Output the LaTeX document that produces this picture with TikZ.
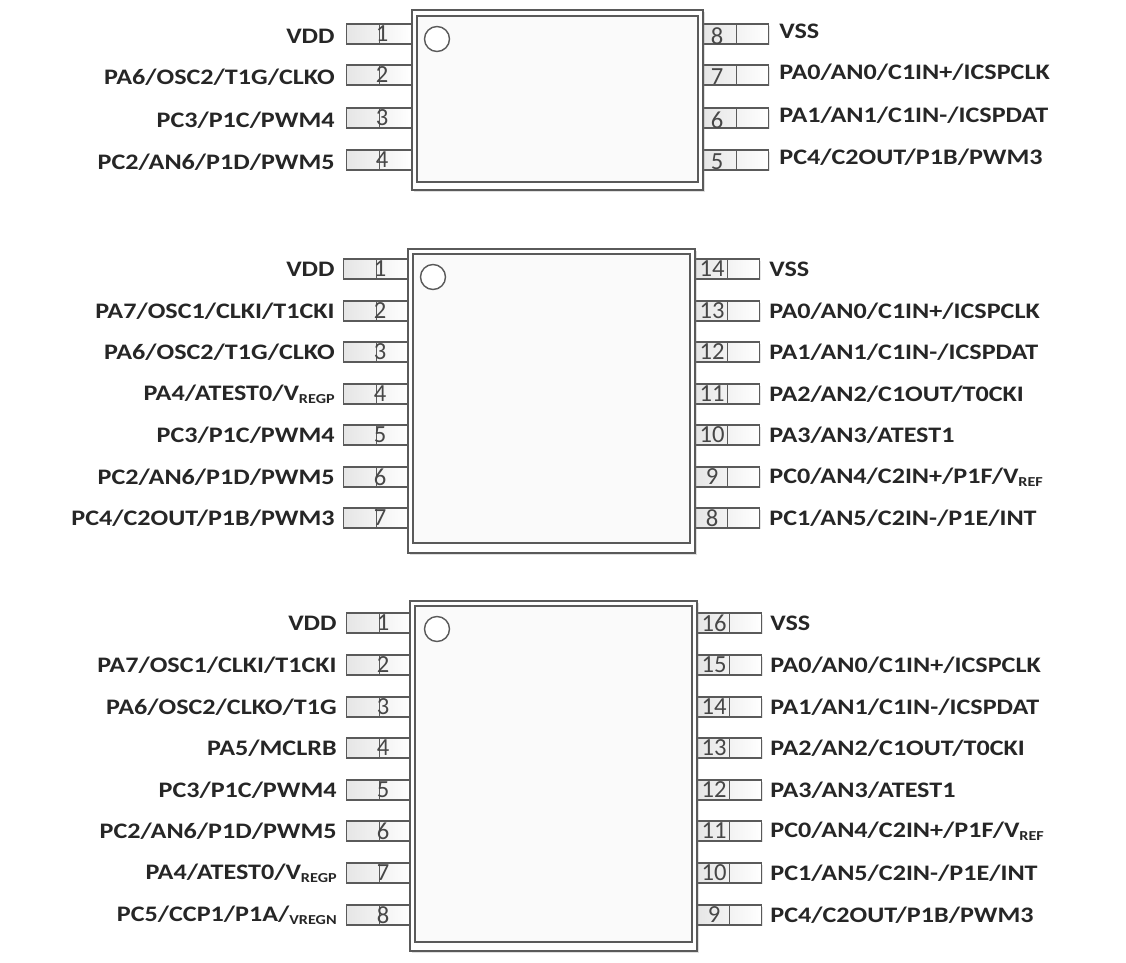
\documentclass[tikz,border=0pt]{standalone}
\usepackage{fontspec}
\setmainfont{Carlito}
\newfontfamily\lblfont[FakeStretch=1.18]{Carlito}
\usepackage{tikz}
\usetikzlibrary{shadows}

\definecolor{pinline}{HTML}{5A5A5A}
\definecolor{lbltext}{HTML}{262626}
\newcommand{\vsub}[1]{\raisebox{-0.3ex}{\fontsize{7.8}{8}\selectfont #1}}

\tikzset{
  chipout/.style={draw=pinline, line width=0.9pt, fill=white, inner sep=0pt,
    drop shadow={shadow xshift=1pt, shadow yshift=-1pt, opacity=0.25}},
  chipin/.style={draw=pinline, line width=1.1pt, fill=black!2, inner sep=0pt},
  pinbox/.style={draw=pinline, line width=0.95pt, left color=black!10, right color=white,
    minimum width=1.3cm, minimum height=0.39cm, inner sep=0pt,
    drop shadow={shadow xshift=0.8pt, shadow yshift=-0.8pt, opacity=0.2}},
  pinnum/.style={text=black!72, font=\fontsize{14}{14}\selectfont, inner sep=0pt},
  lblleft/.style={anchor=east, text=lbltext, font=\lblfont\fontsize{12.6}{14}\selectfont\bfseries, inner sep=0pt},
  lblright/.style={anchor=west, text=lbltext, font=\lblfont\fontsize{12.6}{14}\selectfont\bfseries, inner sep=0pt},
  pinmark/.style={draw=pinline, line width=0.8pt, fill=white, circle, minimum size=0.5cm, inner sep=0pt}
}

\begin{document}
\begin{tikzpicture}[x=0.02cm, y=-0.02cm]
  \useasboundingbox (0,0) rectangle (1126,963);

  % 8 pin
  \foreach \y/\n/\txt in {34/1/VDD, 75/2/{PA6/OSC2/T1G/CLKO}, 118/3/{PC3/P1C/PWM4}, 160/4/{PC2/AN6/P1D/PWM5}} {
    \node[pinbox] (a\n) at (379,\y) {};
    \draw[pinline] (a\n.north) -- (a\n.south);
    \node[pinnum] (an\n) at (382,\y) {\n};
    \node[lblleft] (at\n) at (335,\y+2) {\txt};
  }
  \foreach \y/\n/\txt in {34/8/VSS, 75/7/{PA0/AN0/C1IN+/ICSPCLK}, 118/6/{PA1/AN1/C1IN-/ICSPDAT}, 160/5/{PC4/C2OUT/P1B/PWM3}} {
    \node[pinbox] (a\n) at (736,\y) {};
    \draw[pinline] (a\n.north) -- (a\n.south);
    \node[pinnum] (an\n) at (717,\y+2) {\n};
    \node[lblright] (at\n) at (779,\y-3) {\txt};
  }
  \node[chipout, minimum width=5.82cm, minimum height=3.6cm] (achip) at (557.5,100) {};
  \node[chipin, minimum width=5.62cm, minimum height=3.32cm] (ainner) at (557.5,99) {};
  \node[pinmark] (amark) at (437,39) {};

  % 14 pin
  \foreach \y/\n/\txt in {269/1/VDD, 311/2/{PA7/OSC1/CLKI/T1CKI}, 352/3/{PA6/OSC2/T1G/CLKO},
      394/4/{PA4/ATEST0/V\vsub{REGP}}, 435/5/{PC3/P1C/PWM4}, 477/6/{PC2/AN6/P1D/PWM5}, 518/7/{PC4/C2OUT/P1B/PWM3}} {
    \node[pinbox] (b\n) at (376,\y) {};
    \draw[pinline] (b\n.north) -- (b\n.south);
    \node[pinnum] (bn\n) at (380,\y) {\n};
    \node[lblleft] (bt\n) at (335,\y) {\txt};
  }
  \foreach \y/\n/\txt in {269/14/VSS, 311/13/{PA0/AN0/C1IN+/ICSPCLK}, 352/12/{PA1/AN1/C1IN-/ICSPDAT},
      394/11/{PA2/AN2/C1OUT/T0CKI}, 435/10/{PA3/AN3/ATEST1}, 477/9/{PC0/AN4/C2IN+/P1F/V\vsub{REF}}, 518/8/{PC1/AN5/C2IN-/P1E/INT}} {
    \node[pinbox] (b\n) at (727,\y) {};
    \draw[pinline] (b\n.north) -- (b\n.south);
    \node[pinnum] (bn\n) at (712,\y) {\n};
    \node[lblright] (bt\n) at (769,\y) {\txt};
  }
  \node[chipout, minimum width=5.74cm, minimum height=6.08cm] (bchip) at (551.5,401) {};
  \node[chipin, minimum width=5.54cm, minimum height=5.78cm] (binner) at (551.5,398.5) {};
  \node[pinmark] (bmark) at (433,277) {};

  % 16 pin
  \foreach \y/\n/\txt in {623/1/VDD, 665/2/{PA7/OSC1/CLKI/T1CKI}, 707/3/{PA6/OSC2/CLKO/T1G}, 748/4/{PA5/MCLRB},
      790/5/{PC3/P1C/PWM4}, 831/6/{PC2/AN6/P1D/PWM5}, 873/7/{PA4/ATEST0/V\vsub{REGP}}, 915/8/{PC5/CCP1/P1A/\vsub{VREGN}}} {
    \node[pinbox] (c\n) at (379,\y) {};
    \draw[pinline] (c\n.north) -- (c\n.south);
    \node[pinnum] (cn\n) at (383,\y) {\n};
    \node[lblleft] (ct\n) at (337,\y) {\txt};
  }
  \foreach \y/\n/\txt in {623/16/VSS, 665/15/{PA0/AN0/C1IN+/ICSPCLK}, 707/14/{PA1/AN1/C1IN-/ICSPDAT}, 748/13/{PA2/AN2/C1OUT/T0CKI},
      790/12/{PA3/AN3/ATEST1}, 831/11/{PC0/AN4/C2IN+/P1F/V\vsub{REF}}, 873/10/{PC1/AN5/C2IN-/P1E/INT}, 915/9/{PC4/C2OUT/P1B/PWM3}} {
    \node[pinbox] (c\n) at (729,\y) {};
    \draw[pinline] (c\n.north) -- (c\n.south);
    \node[pinnum] (cn\n) at (714,\y) {\n};
    \node[lblright] (ct\n) at (770,\y) {\txt};
  }
  \node[chipout, minimum width=5.74cm, minimum height=7cm] (cchip) at (553.5,776) {};
  \node[chipin, minimum width=5.54cm, minimum height=6.72cm] (cinner) at (553.5,774) {};
  \node[pinmark] (cmark) at (437,629) {};
\end{tikzpicture}
\end{document}
